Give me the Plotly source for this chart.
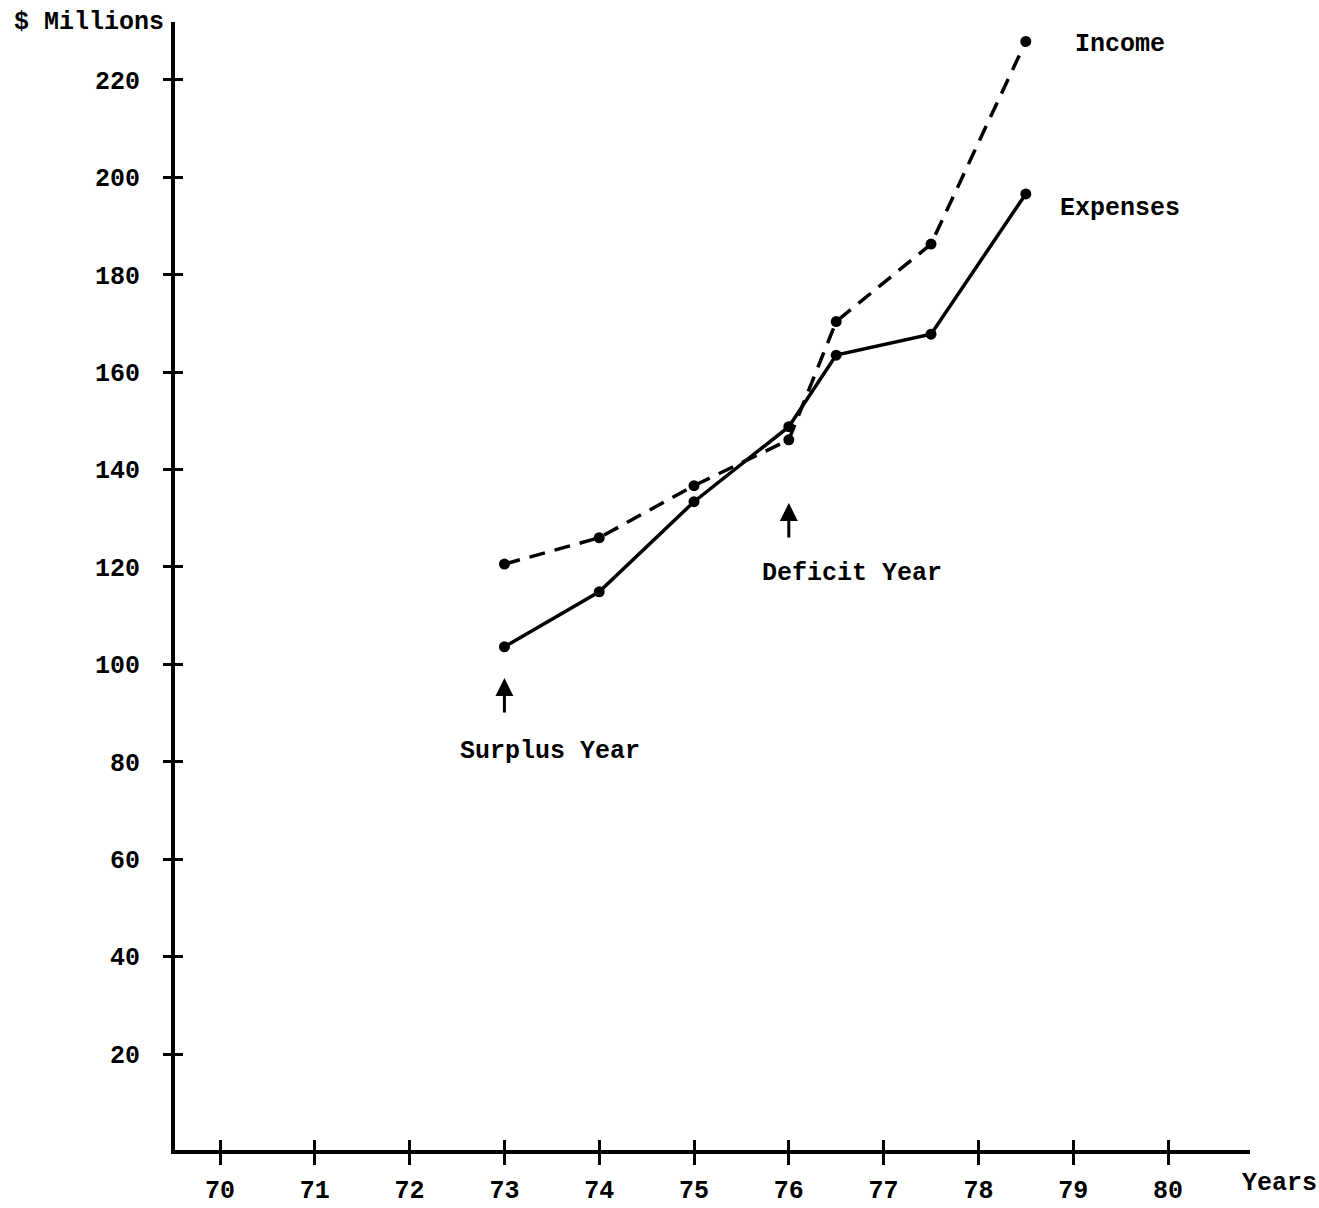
import plotly.graph_objects as go

# ---- data ----
years = [73, 74, 75, 76, 76.5, 77.5, 78.5]
expenses = [103.6, 114.9, 133.4, 148.8, 163.5, 167.8, 196.6]
income = [120.6, 126.0, 136.7, 146.1, 170.4, 186.3, 227.9]

x_ticks = [70, 71, 72, 73, 74, 75, 76, 77, 78, 79, 80]
y_ticks = [20, 40, 60, 80, 100, 120, 140, 160, 180, 200, 220]

surplus_year = 73
deficit_year = 76

# ---- layout geometry (pixels) ----
W, H = 1319, 1208
L, R, T, B = 175, 1250, 22, 1150          # plot area
X_RANGE = [69.525, 80.865]
Y_RANGE = [0.29, 231.9]


def px2x(px):
    return X_RANGE[0] + (px - L) / (R - L) * (X_RANGE[1] - X_RANGE[0])


def px2y(py):
    return Y_RANGE[0] + (B - py) / (B - T) * (Y_RANGE[1] - Y_RANGE[0])


def paper_x(px):
    return (px - L) / (R - L)


def paper_y(py):
    return (B - py) / (B - T)


FONT = dict(family="Liberation Mono", size=25, color="black", weight="bold")

fig = go.Figure()

fig.add_trace(go.Scatter(
    x=years, y=income, mode="lines+markers", name="Income",
    line=dict(color="black", width=3.5, dash="16px,10px"),
    marker=dict(color="black", size=11),
))
fig.add_trace(go.Scatter(
    x=years, y=expenses, mode="lines+markers", name="Expenses",
    line=dict(color="black", width=3.5),
    marker=dict(color="black", size=11),
))
# empty trace to materialise the overlay axes (ticks crossing the axis lines)
fig.add_trace(go.Scatter(x=[], y=[], xaxis="x2", yaxis="y2", showlegend=False))

axis_common = dict(showgrid=False, zeroline=False, showline=True,
                   linecolor="black", linewidth=4, tickcolor="black",
                   tickwidth=3, tickfont=FONT, automargin=False)

fig.update_layout(
    width=W, height=H,
    margin=dict(l=L, r=W - R, t=T, b=H - B, pad=0, autoexpand=False),
    paper_bgcolor="white", plot_bgcolor="white",
    showlegend=False,
    font=FONT,
    xaxis=dict(range=X_RANGE, tickmode="array", tickvals=x_ticks,
               ticktext=[str(v) for v in x_ticks], ticks="outside", ticklen=11,
               ticklabelstandoff=3, **axis_common),
    yaxis=dict(range=Y_RANGE, tickmode="array", tickvals=y_ticks,
               ticktext=[str(v) for v in y_ticks], ticks="outside", ticklen=8,
               ticklabelstandoff=18, **axis_common),
    xaxis2=dict(range=X_RANGE, overlaying="x", anchor="y", side="bottom",
                tickmode="array", tickvals=x_ticks, ticks="inside", ticklen=10,
                tickwidth=3, tickcolor="black", showticklabels=False,
                showgrid=False, zeroline=False, showline=False, automargin=False),
    yaxis2=dict(range=Y_RANGE, overlaying="y", anchor="x", side="left",
                tickmode="array", tickvals=y_ticks, ticks="inside", ticklen=8,
                tickwidth=3, tickcolor="black", showticklabels=False,
                showgrid=False, zeroline=False, showline=False, automargin=False),
)

# ---- text labels inside the plot area (data coordinates) ----
labels = [
    ("Income", px2x(1073), px2y(44), "left"),
    ("Expenses", px2x(1058), px2y(208), "left"),
    ("Deficit Year", px2x(760), px2y(573), "left"),
    ("Surplus Year", px2x(458), px2y(751), "left"),
]
for text, x, y, anchor in labels:
    fig.add_annotation(text=text, x=x, y=y, xref="x", yref="y",
                       xanchor=anchor, yanchor="middle", showarrow=False,
                       font=FONT)

# ---- axis titles outside the plot area (paper coordinates) ----
for text, px, py, anchor in [("$ Millions", 166, 23, "right"),
                             ("Years", 1240, 1183, "left")]:
    fig.add_annotation(text=text, x=paper_x(px), y=paper_y(py),
                       xref="paper", yref="paper", xanchor=anchor,
                       yanchor="middle", showarrow=False, font=FONT)

# ---- arrows ----
for yr, head_py in [(deficit_year, 503), (surplus_year, 678)]:
    fig.add_annotation(text="", x=yr, y=px2y(head_py), xref="x", yref="y",
                       ax=0, ay=36, showarrow=True, arrowhead=2,
                       arrowsize=1.2, arrowwidth=3, arrowcolor="black",
                       standoff=0)

fig.write_html(
    "out.html",
    config={"displayModeBar": False},
    post_script=("document.body.style.margin='0';"
                 "document.documentElement.style.overflow='hidden';"
                 "document.body.style.overflow='hidden';"),
)
